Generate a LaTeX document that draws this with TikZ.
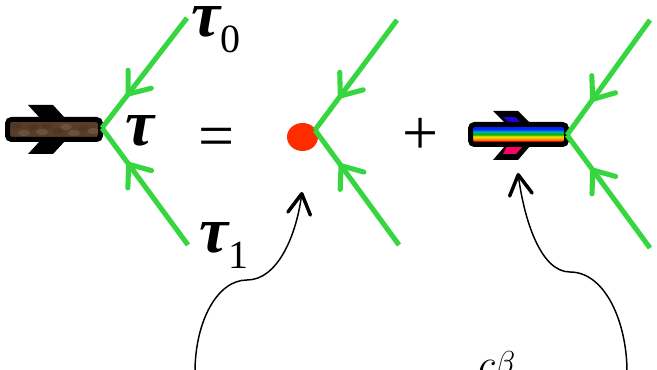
\documentclass[tikz,border=0pt]{standalone}
\usepackage{fontspec}
\setmainfont{Liberation Serif}
\usepackage{xcolor}
\usepackage{tikz}
\usetikzlibrary{positioning,arrows.meta,decorations.markings,shapes.geometric}
\definecolor{legG}{HTML}{35D63F}
\definecolor{vertR}{HTML}{FF2C00}
\definecolor{woodB}{HTML}{5A3D28}
\pgfdeclareverticalshading{rainbowS}{100bp}{color(0bp)=(red!90!black); color(33bp)=(red!90!black); color(37bp)=(orange); color(45bp)=(yellow!80!orange); color(50bp)=(green!70!black); color(57bp)=(teal!60!cyan); color(63bp)=(blue!85!cyan); color(100bp)=(blue!85!cyan)}
\newcommand{\taulab}[1]{{\fontsize{49}{49}\selectfont\bfseries\itshape τ}{\fontsize{30}{30}\selectfont\raisebox{-12pt}{#1}}}
\tikzset{
  fermion/.style={draw=legG, line width=3.8pt, postaction={decorate},
    decoration={markings, mark=at position 0.71 with {\arrow{Straight Barb[length=14pt,width=22pt,line width=3.8pt,round]}}}},
  barbar/.style={rectangle, draw=black, line width=3.75pt, rounded corners=3pt, minimum width=69.75pt, minimum height=15pt, inner sep=0pt},
  callout/.style={draw=black, line width=1.1pt, -{Straight Barb[length=15pt,width=17pt,line width=2.6pt,round]}},
  opsym/.style={inner sep=0pt, font=\fontsize{48}{48}\selectfont},
}

\begin{document}
\begin{tikzpicture}[x=0.75pt,y=-0.75pt]
\useasboundingbox (0,0) rectangle (657,370);
\clip (0,0) rectangle (657,370);
% first leg pair
\fill[black] (28,105) -- (53,105) -- (65,118) -- (40,118) -- cycle;
\fill[black] (40,141) -- (65,141) -- (53,154) -- (28,154) -- cycle;
\node[barbar, fill=woodB] (bar0) at (54,129.5) {};
\foreach \bx/\by/\bc in {16/126/black, 24/133/white, 33/127/black, 42/132/white, 47/126/black, 58/131/black, 66/127/white, 74/133/white, 84/128/black, 93/131/white}
  \fill[\bc, opacity=0.1] (\bx,\by) ellipse (6 and 3);
\coordinate (v0) at (102,128);
\coordinate (t0) at (187,18);
\coordinate (t1) at (188,245);
\draw[fermion] (t0) -- (v0);
\draw[fermion] (t1) -- (v0);
\node[inner sep=0pt] (tauM) at (140,131) {\fontsize{49}{49}\selectfont\bfseries\itshape τ};
\node[inner sep=0pt] (tau0) at (216,30) {\taulab{0}};
\node[inner sep=0pt] (tau1) at (224,246) {\taulab{1}};
\node[opsym] (eqS) at (217,143) {=};
% red dot
\node[ellipse, fill=vertR, minimum width=23.25pt, minimum height=21pt, inner sep=0pt] (dot) at (302.5,137) {};
\coordinate (v1) at (315,130);
\coordinate (t2) at (397,20);
\coordinate (t3) at (399,245);
\draw[fermion] (t2) -- (v1);
\draw[fermion] (t3) -- (v1);
\node[opsym] (plusS) at (421,136) {+};
% rainbow bar
\fill[black] (493,111) -- (518,111) -- (530,123) -- (505,123) -- cycle;
\fill[black] (505,146) -- (530,146) -- (518,160) -- (493,160) -- cycle;
\fill[blue!70!violet] (503,117) -- (515,117) -- (521,123) -- (509,123) -- cycle;
\fill[red!60!magenta] (507,146) -- (523,146) -- (516,154) -- (503,154) -- cycle;
\node[barbar, shading=rainbowS, minimum width=72pt] (bar1) at (518.5,134.5) {};
\coordinate (v2) at (567,135);
\coordinate (t4) at (650,20);
\coordinate (t5) at (650,248);
\draw[fermion] (t4) -- (v2);
\draw[fermion] (t5) -- (v2);
% callouts
\coordinate (srcA) at (195,372);
\coordinate (midA) at (247,280);
\coordinate (tipA) at (302,192);
\draw[callout] (srcA) .. controls +(0,-50) and +(-30,0) .. (midA) .. controls +(30,0) and +(-6,45) .. (tipA);
\coordinate (srcB) at (627,372);
\coordinate (midB) at (570,272);
\coordinate (tipB) at (518,173);
\draw[callout] (srcB) .. controls +(0,-50) and +(35,0) .. (midB) .. controls +(-30,0) and +(6,45) .. (tipB);
\node[anchor=base west, inner sep=0pt, scale=1.2, font=\Huge] (cutT) at (478,378) {$c\raisebox{2pt}{$\scriptstyle\beta$}$};
\end{tikzpicture}
\end{document}
